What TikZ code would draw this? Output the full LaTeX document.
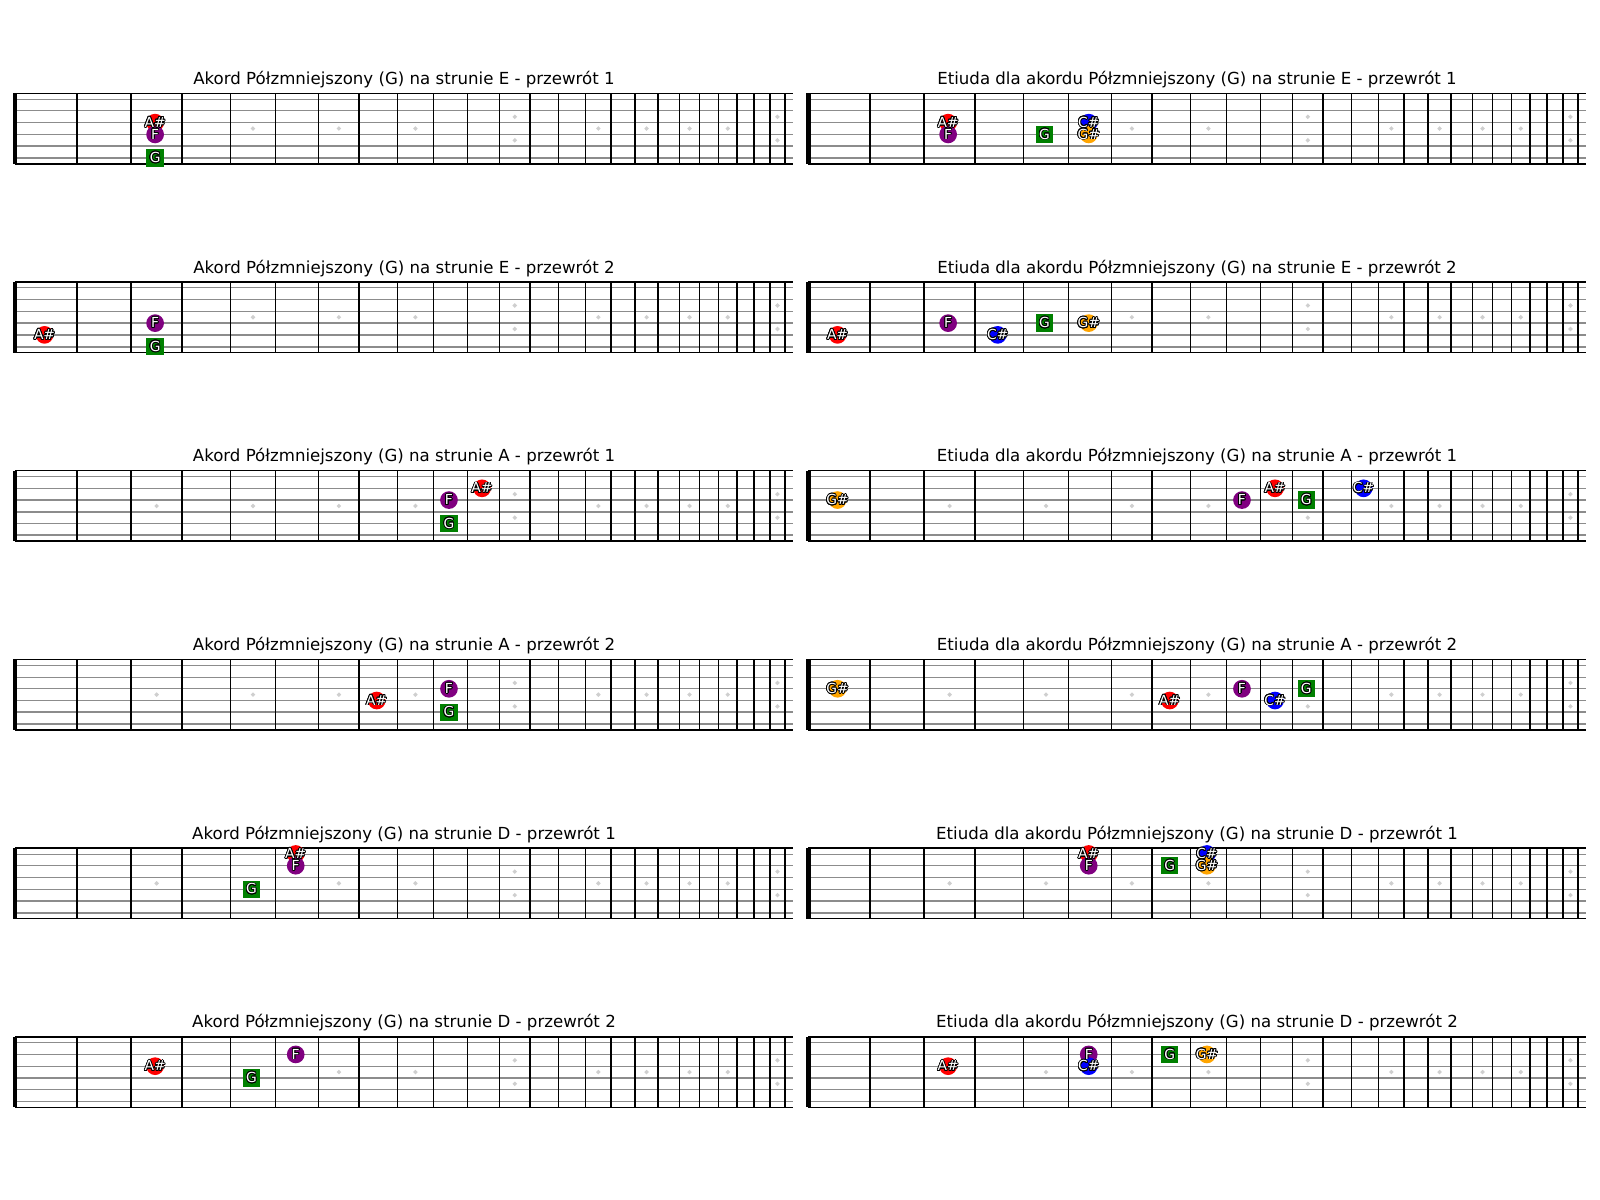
\documentclass[tikz,border=0pt]{standalone}
\usepackage{fontspec}
\setmainfont{DejaVu Sans}
\usepackage{contour}
\usepackage{tikz}
\usetikzlibrary{positioning}
\contourlength{0.6pt}
\definecolor{strcol}{HTML}{8C8C8C}
\definecolor{inlay}{HTML}{CFCFCF}
\definecolor{nred}{HTML}{FF0000}
\definecolor{npurple}{HTML}{800080}
\definecolor{ngreen}{HTML}{008000}
\definecolor{nblue}{HTML}{0000FF}
\definecolor{norange}{HTML}{FFA500}

\pgfdeclarelayer{front}
\pgfsetlayers{main,front}

\tikzset{
  declare function={fret(\n)=min(\n,1)*5+1020*(1-exp(-0.0577623*\n));
                    slot(\m)=(fret(\m-1)+fret(\m))/2;
                    ys(\s)=(\s+0.5)*11.75;},
  note/.style={circle,fill=#1,minimum size=12.8pt,inner sep=0pt},
  root/.style={rectangle,fill=ngreen,minimum size=12.5pt,inner sep=0pt},
  notelab/.style={text=white,font=\fontsize{10}{10}\selectfont,inner sep=0pt},
  ttl/.style={anchor=base,font=\fontsize{12}{14}\selectfont},
  fretline/.style={black,line width=1.05pt},
}

% one fretboard, drawn at the origin of the current scope
\newcommand{\board}[1]{%
  \node[ttl] at (389,-9) {#1};
  \foreach \s in {0,...,5}
    \draw[strcol,line width={0.6pt+0.14pt*\s}] (0,{ys(\s)}) -- (778,{ys(\s)});
  \foreach \n in {1,...,24}
    \draw[fretline] ({fret(\n)},0) -- ({fret(\n)},70.5);
  \draw[fretline] (0,0) -- (778,0) (0,70.5) -- (778,70.5);
  \draw[black,line width=3.6pt] (0,0) -- (0,70.5);
  \foreach \m in {3,5,7,9,15,17,19,21}
    \fill[inlay] ({slot(\m)},35.25) +(-2.3,0) -- +(0,2.3) -- +(2.3,0) -- +(0,-2.3) -- cycle;
  \foreach \m in {12,24}{
    \foreach \yy in {23.5,47}
      \fill[inlay] ({slot(\m)},\yy) +(-2.3,0) -- +(0,2.3) -- +(2.3,0) -- +(0,-2.3) -- cycle;
  }
}
% note: name, string, fret, colour, label
\newcommand{\nt}[5]{%
  \node[note=#4] (#1) at ({slot(#3)-1.5},{ys(#2)}) {};
  \begin{pgfonlayer}{front}\node[notelab] at (#1) {\contour{black}{#5}};\end{pgfonlayer}}
% root: name, string, fret
\newcommand{\rt}[3]{%
  \node[root] (#1) at ({slot(#3)-1.5},{ys(#2)}) {};
  \begin{pgfonlayer}{front}\node[notelab] at (#1) {\contour{black}{G}};\end{pgfonlayer}}

\begin{document}
\begin{tikzpicture}[x=0.7227pt,y=-0.7227pt]
  \fill[white] (0,0) rectangle (1600,1200);
  \useasboundingbox (0,0) rectangle (1600,1200);

  % E string
  \begin{scope}[shift={(15,93.3)}]
    \board{Akord Półzmniejszony (G) na strunie E - przewrót 1}
    \nt{a1as}{2}{3}{nred}{A\#}
    \nt{a1f}{3}{3}{npurple}{F}
    \rt{a1g}{5}{3}
  \end{scope}
  \begin{scope}[shift={(808,93.3)}]
    \board{Etiuda dla akordu Półzmniejszony (G) na strunie E - przewrót 1}
    \nt{b1as}{2}{3}{nred}{A\#}
    \nt{b1f}{3}{3}{npurple}{F}
    \rt{b1g}{3}{5}
    \nt{b1cs}{2}{6}{nblue}{C\#}
    \nt{b1gs}{3}{6}{norange}{G\#}
  \end{scope}
  \begin{scope}[shift={(15,282)}]
    \board{Akord Półzmniejszony (G) na strunie E - przewrót 2}
    \nt{a2as}{4}{1}{nred}{A\#}
    \nt{a2f}{3}{3}{npurple}{F}
    \rt{a2g}{5}{3}
  \end{scope}
  \begin{scope}[shift={(808,282)}]
    \board{Etiuda dla akordu Półzmniejszony (G) na strunie E - przewrót 2}
    \nt{b2as}{4}{1}{nred}{A\#}
    \nt{b2f}{3}{3}{npurple}{F}
    \nt{b2cs}{4}{4}{nblue}{C\#}
    \rt{b2g}{3}{5}
    \nt{b2gs}{3}{6}{norange}{G\#}
  \end{scope}

  % A string
  \begin{scope}[shift={(15,470.7)}]
    \board{Akord Półzmniejszony (G) na strunie A - przewrót 1}
    \nt{a3as}{1}{11}{nred}{A\#}
    \nt{a3f}{2}{10}{npurple}{F}
    \rt{a3g}{4}{10}
  \end{scope}
  \begin{scope}[shift={(808,470.7)}]
    \board{Etiuda dla akordu Półzmniejszony (G) na strunie A - przewrót 1}
    \nt{b3gs}{2}{1}{norange}{G\#}
    \nt{b3as}{1}{11}{nred}{A\#}
    \nt{b3f}{2}{10}{npurple}{F}
    \rt{b3g}{2}{12}
    \nt{b3cs}{1}{14}{nblue}{C\#}
  \end{scope}
  \begin{scope}[shift={(15,659.4)}]
    \board{Akord Półzmniejszony (G) na strunie A - przewrót 2}
    \nt{a4as}{3}{8}{nred}{A\#}
    \nt{a4f}{2}{10}{npurple}{F}
    \rt{a4g}{4}{10}
  \end{scope}
  \begin{scope}[shift={(808,659.4)}]
    \board{Etiuda dla akordu Półzmniejszony (G) na strunie A - przewrót 2}
    \nt{b4gs}{2}{1}{norange}{G\#}
    \nt{b4as}{3}{8}{nred}{A\#}
    \nt{b4f}{2}{10}{npurple}{F}
    \nt{b4cs}{3}{11}{nblue}{C\#}
    \rt{b4g}{2}{12}
  \end{scope}

  % D string
  \begin{scope}[shift={(15,848.1)}]
    \board{Akord Półzmniejszony (G) na strunie D - przewrót 1}
    \nt{a5as}{0}{6}{nred}{A\#}
    \nt{a5f}{1}{6}{npurple}{F}
    \rt{a5g}{3}{5}
  \end{scope}
  \begin{scope}[shift={(808,848.1)}]
    \board{Etiuda dla akordu Półzmniejszony (G) na strunie D - przewrót 1}
    \nt{b5as}{0}{6}{nred}{A\#}
    \nt{b5f}{1}{6}{npurple}{F}
    \rt{b5g}{1}{8}
    \nt{b5cs}{0}{9}{nblue}{C\#}
    \nt{b5gs}{1}{9}{norange}{G\#}
  \end{scope}
  \begin{scope}[shift={(15,1036.8)}]
    \board{Akord Półzmniejszony (G) na strunie D - przewrót 2}
    \nt{a6as}{2}{3}{nred}{A\#}
    \rt{a6g}{3}{5}
    \nt{a6f}{1}{6}{npurple}{F}
  \end{scope}
  \begin{scope}[shift={(808,1036.8)}]
    \board{Etiuda dla akordu Półzmniejszony (G) na strunie D - przewrót 2}
    \nt{b6as}{2}{3}{nred}{A\#}
    \nt{b6f}{1}{6}{npurple}{F}
    \nt{b6cs}{2}{6}{nblue}{C\#}
    \rt{b6g}{1}{8}
    \nt{b6gs}{1}{9}{norange}{G\#}
  \end{scope}
\end{tikzpicture}
\end{document}
